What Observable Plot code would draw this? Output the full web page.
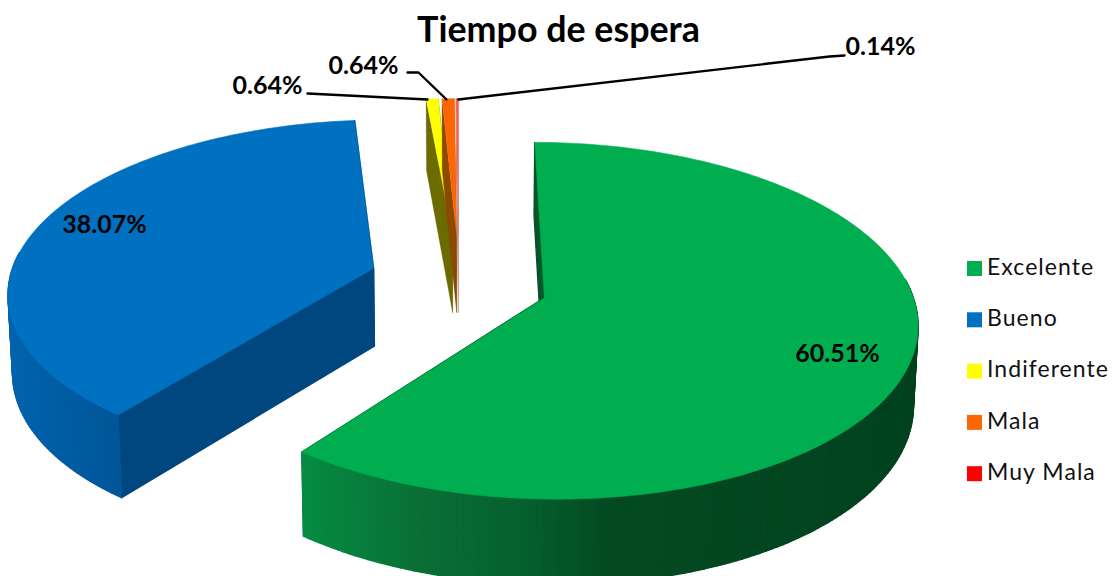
<!DOCTYPE html>
<html>
<head>
<meta charset="utf-8">
<script src="https://cdn.jsdelivr.net/npm/d3@7"></script>
<script src="https://cdn.jsdelivr.net/npm/@observablehq/plot@0.6"></script>
<style>html,body{margin:0;padding:0;background:#fff}svg{display:block}.legend-text text{letter-spacing:1.05px}</style>
</head>
<body>
<div id="chart"></div>
<script>
// ---- data
const title = "Tiempo de espera";
const categories = ["Excelente", "Bueno", "Indiferente", "Mala", "Muy Mala"];
const values = [60.51, 38.07, 0.64, 0.64, 0.14];
const valueLabels = ["60.51%", "38.07%", "0.64%", "0.64%", "0.14%"];

// ---- style
const legendColors = ["#00AE50", "#0070C0", "#FFFF00", "#FF6600", "#FF0000"];
const topColors = ["#00AE50", "#0070C0", "#FFFF00", "#FF6600", "#F46058"];
const radialColors = ["#04552A", "#00477F", "#6B6B00", "#8A4A00", "#C08878"];
const wallStops = [
  {x: [300, 423, 523, 607, 925], c: ["#058C42", "#0A6E35", "#05602E", "#034A22", "#02421F"]},
  {x: [5, 120], c: ["#0064AE", "#005596"]}
];

// ---- 3D view of the pie (plane -> screen)
const view = {cx: 460, cy: 280, R: 368, Ry: 171, k: 0.127, depth: 78, shrink: 0.99};
const pullX = [0.225, -0.2385, -0.0225, -0.011, -0.006];
const pullY = [-0.1, 0.071, 0.27, 0.27, 0.27];
const radiusX = [0.99, 0.99, 0.96, 0.96, 0.96];
const radiusY = [1, 0.995, 0.96, 0.96, 0.96];
const paintOrder = [1, 2, 3, 4, 0];

function project(X, Y, low) {
  const w = 1 + view.k * Y;
  let x = view.cx + view.R * X / w;
  let y = view.cy - view.Ry * Y / w;
  if (low) {
    x = view.cx + (x - view.cx) * view.shrink;
    y += view.depth / Math.pow(w, 0.625);
  }
  return {x, y};
}

const total = d3.sum(values);
const cumulative = d3.cumsum(values);
const rad = d => d * Math.PI / 180;
let faceId = 0;
const face = (points, fill) => {
  const id = faceId++;
  return points.map(p => ({...p, id, fill}));
};

function sliceFaces(i) {
  const a0 = (cumulative[i] - values[i]) / total * 360;
  const a1 = cumulative[i] / total * 360;
  const ax = pullX[i], ay = pullY[i];
  const rim = (a, low) => project(ax + radiusX[i] * Math.sin(rad(a)), ay + radiusY[i] * Math.cos(rad(a)), low);
  const apex = low => project(ax, ay, low);
  const walls = [];
  [a0, a1].forEach(a => walls.push(...face([apex(false), rim(a, false), rim(a, true), apex(true)], radialColors[i])));
  if (i < wallStops.length) {
    const shade = d3.scaleLinear().domain(wallStops[i].x).range(wallStops[i].c).clamp(true);
    const n = Math.ceil(a1 - a0);
    for (let s = 0; s < n; s++) {
      const b0 = a0 + (a1 - a0) * s / n, b1 = a0 + (a1 - a0) * (s + 1) / n;
      if (Math.cos(rad((b0 + b1) / 2)) > 0.1) continue;
      const mid = rim((b0 + b1) / 2, false);
      walls.push(...face([rim(b0, false), rim(b1, false), rim(b1, true), rim(b0, true)], shade(mid.x)));
    }
  }
  const pts = [apex(false)];
  const m = Math.max(2, Math.ceil(a1 - a0));
  for (let s = 0; s <= m; s++) pts.push(rim(a0 + (a1 - a0) * s / m, false));
  return {walls, top: face(pts, topColors[i])};
}

const faceMark = (data, strokeWidth) => Plot.line(data, {
  x: "x", y: "y", z: "id", fill: "fill", stroke: "fill", strokeWidth, curve: "linear-closed"
});
const pieMarks = paintOrder.flatMap(i => {
  const {walls, top} = sliceFaces(i);
  const big = i < wallStops.length;
  return [faceMark(walls, big ? 1.4 : 0.3), faceMark(top, big ? 0.6 : 0.2)];
});

// ---- layout of text and legend
const font = "Lato, Carlito, sans-serif";
const labelPos = [
  {x: 837, y: 353}, {x: 104, y: 224}, {x: 267, y: 85}, {x: 363, y: 65}, {x: 880, y: 46}
];
const labels = valueLabels.map((t, i) => ({t, ...labelPos[i]}));
const leaders = [
  {id: 2, pts: [[307, 93], [427, 99]]},
  {id: 3, pts: [[407, 72], [418, 72], [446, 99]]},
  {id: 4, pts: [[844, 55], [829, 56], [458, 99]]}
].flatMap(l => l.pts.map(([x, y]) => ({id: l.id, x, y})));
const legendX = 967, legendTop = 261, legendStep = 51.3, legendBox = 15;
const legend = categories.map((name, i) => ({name, color: legendColors[i], y: legendTop + i * legendStep}));

const plot = Plot.plot({
  width: 1116, height: 576,
  margin: 0,
  x: {domain: [0, 1116], range: [0, 1116], axis: null},
  y: {domain: [0, 576], range: [0, 576], axis: null},
  color: {type: "identity"},
  marks: [
    ...pieMarks,
    Plot.line(leaders, {x: "x", y: "y", z: "id", stroke: "black", strokeWidth: 2.4}),
    Plot.text(labels, {x: "x", y: "y", text: "t", fill: "black", fontFamily: font, fontWeight: "bold", fontSize: 25}),
    Plot.text([title], {x: () => 558, y: () => 30, text: d => d, fill: "black", fontFamily: font, fontWeight: "bold", fontSize: 35.8}),
    Plot.rect(legend, {x1: () => legendX, x2: () => legendX + legendBox, y1: "y", y2: d => d.y + legendBox, fill: "color"}),
    Plot.text(legend, {x: () => 986.5, y: d => d.y + 6, text: "name", fill: "#111", textAnchor: "start", fontFamily: font, fontSize: 23, className: "legend-text"})
  ]
});
document.getElementById("chart").appendChild(plot);
</script>
</body>
</html>
